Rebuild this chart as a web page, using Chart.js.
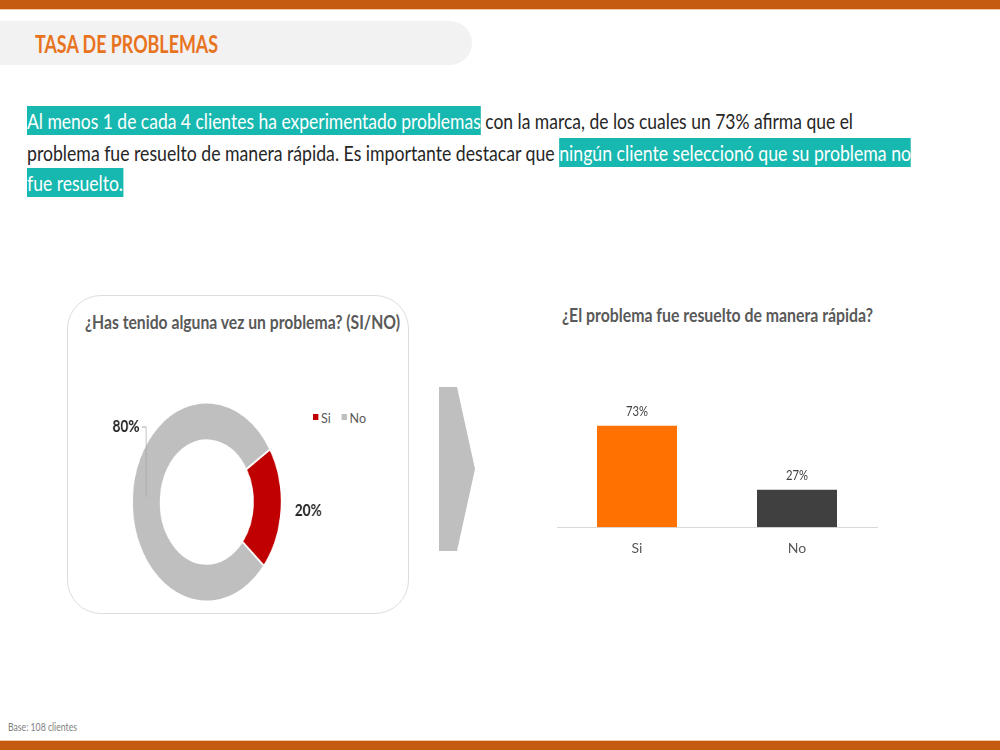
<!DOCTYPE html>
<html>
<head>
<meta charset="utf-8">
<script src="https://cdn.jsdelivr.net/npm/chart.js@4"></script>
<style>
  body { margin: 0; width: 1000px; height: 750px; position: relative; background: #fff; overflow: hidden;
         font-family: Lato, "Noto Sans", sans-serif; }
  .topbar { position: absolute; left: 0; top: 0; width: 1000px; height: 9px; background: #C55A11; border-bottom: 1px solid #F4C7A6; }
  .botbar { position: absolute; left: 0; top: 740px; width: 1000px; height: 10px; background: #C55A11; border-top: 1px solid #F4C7A6; }
  .pill { position: absolute; left: 0; top: 21px; width: 472px; height: 44px; background: #F2F2F2; border-radius: 0 22px 22px 0; }
  .fit { position: absolute; white-space: nowrap; transform-origin: 0 50%; }
  .head { left: 35px; top: 29px; font-weight: bold; font-size: 24.5px; line-height: 30px; color: #E8731F; }
  .line { left: 27px; font-size: 22px; line-height: 30px; color: #262626; }
  .hl { background: #17B8B0; color: #fff; padding: 1px 0; }
  .card { position: absolute; left: 67px; top: 295px; width: 340px; height: 317px; border: 1px solid #DDDDDD; border-radius: 34px; }
  .ctitle { font-weight: bold; font-size: 19.5px; line-height: 24px; color: #595959; }
  .legend { left: 313px; top: 409px; font-size: 14px; line-height: 18px; color: #595959; }
  .legend i { display: inline-block; width: 6px; height: 6px; margin-right: 3px; vertical-align: 3px; }
  .legend b { font-weight: normal; margin-right: 12px; }
  .legend b:last-child { margin-right: 0; }
  .arrow { position: absolute; left: 439px; top: 387px; width: 36px; height: 164px; background: #BFBFBF;
           clip-path: polygon(0 0, 50% 0, 100% 50%, 50% 100%, 0 100%); }
  .base { left: 8px; top: 720px; font-size: 10.5px; line-height: 14px; color: #7F7F7F; }
  #donut { position: absolute; left: 90px; top: 395px; }
  #bars { position: absolute; left: 540px; top: 370px; }
</style>
</head>
<body>
<div class="topbar"></div>
<div class="pill"></div>
<div class="fit head" data-w="183">TASA DE PROBLEMAS</div>

<div class="fit line" style="top:106px" data-w="826"><span class="hl">Al menos 1 de cada 4 clientes ha experimentado problemas</span> con la marca, de los cuales un 73% afirma que el</div>
<div class="fit line" style="top:138px" data-w="884">problema fue resuelto de manera rápida. Es importante destacar que <span class="hl">ningún cliente seleccionó que su problema no</span></div>
<div class="fit line" style="top:168px" data-w="96"><span class="hl">fue resuelto.</span></div>

<div class="card"></div>
<div class="fit ctitle" style="left:85px; top:310px;" data-w="315">¿Has tenido alguna vez un problema? (SI/NO)</div>
<div class="fit legend" id="legend" data-w="53"></div>
<canvas id="donut" width="333" height="215" style="width:250px; height:215px;"></canvas>

<div class="arrow"></div>

<div class="fit ctitle" style="left:562px; top:303px;" data-w="311">¿El problema fue resuelto de manera rápida?</div>
<canvas id="bars" width="360" height="200" style="width:360px; height:200px;"></canvas>

<div class="fit base" data-w="69">Base: 108 clientes</div>
<div class="botbar"></div>

<script>
// donut: ever had a problem
const donutLabels = ['Si', 'No']
const donutValues = [20, 80]
const donutColors = ['#C00000', '#BFBFBF']

// bars: solved quickly
const barLabels = ['Si', 'No']
const barValues = [73, 27]
const barColors = ['#FF7100', '#404040']

const squish = 0.75   // the donut in the slide is drawn narrower than tall
const font = 'Lato, "Noto Sans", sans-serif'

document.getElementById('legend').innerHTML = donutLabels
    .map((l, i) => '<i style="background:' + donutColors[i] + '"></i><b>' + l + '</b>').join('')

// squeeze html texts to the widths they have on the slide
document.querySelectorAll('.fit').forEach(el => {
    const w = el.getBoundingClientRect().width
    el.style.transform = 'scaleX(' + (el.dataset.w / w) + ')'
})

// draw a text squeezed to a given width (canvas x-scale sx undone)
function narrowText(ctx, text, x, y, width, sx) {
    const k = width / ctx.measureText(text).width
    ctx.save()
    ctx.translate(x, y)
    ctx.scale(k / sx, 1)
    ctx.fillText(text, 0, 0)
    ctx.restore()
}

const donutLabelPlugin = {
    id: 'donutLabels',
    afterDatasetsDraw(chart) {
        const ctx = chart.ctx
        const arcs = chart.getDatasetMeta(0).data
        ctx.save()
        ctx.font = 'bold 17px ' + font
        ctx.fillStyle = '#262626'
        ctx.textBaseline = 'middle'
        arcs.forEach((arc, i) => {
            const mid = (arc.startAngle + arc.endAngle) / 2
            const text = donutValues[i] + '%'
            if (i === 0) {
                // label to the right of the slice
                const r = arc.outerRadius + 22
                const x = arc.x + Math.cos(mid) * r
                const y = arc.y + Math.sin(mid) * r
                ctx.textAlign = 'left'
                narrowText(ctx, text, x - 4, y, 27, squish)
            } else {
                // leader line from inside the ring up to the label
                const lx = arc.x - (arc.innerRadius + arc.outerRadius) / 2
                const ly = arc.y - 5
                const topY = arc.y - 75
                ctx.strokeStyle = '#A6A6A6'
                ctx.lineWidth = 1
                ctx.beginPath()
                ctx.moveTo(lx, ly)
                ctx.lineTo(lx, topY)
                ctx.lineTo(lx - 6, topY)
                ctx.stroke()
                ctx.textAlign = 'right'
                narrowText(ctx, text, lx - 9, topY, 27, squish)
            }
        })
        ctx.restore()
    }
}

new Chart(document.getElementById('donut'), {
    type: 'doughnut',
    data: {
        labels: donutLabels,
        datasets: [{
            data: donutValues,
            backgroundColor: donutColors,
            borderColor: '#ffffff',
            borderWidth: 2,
        }]
    },
    options: {
        responsive: false,
        animation: false,
        devicePixelRatio: 1,
        cutout: '62%',
        rotation: 58,
        layout: { padding: { left: 55, right: 77, top: 6, bottom: 7 } },
        plugins: { legend: { display: false }, tooltip: { enabled: false } }
    },
    plugins: [donutLabelPlugin]
})

const barLabelPlugin = {
    id: 'barLabels',
    afterDatasetsDraw(chart) {
        const ctx = chart.ctx
        ctx.save()
        ctx.font = '14px ' + font
        ctx.fillStyle = '#404040'
        ctx.textAlign = 'center'
        ctx.textBaseline = 'middle'
        chart.getDatasetMeta(0).data.forEach((bar, i) => {
            narrowText(ctx, barValues[i] + '%', bar.x, bar.y - 14, 22, 1)
        })
        ctx.restore()
    }
}

new Chart(document.getElementById('bars'), {
    type: 'bar',
    data: {
        labels: barLabels,
        datasets: [{
            data: barValues,
            backgroundColor: barColors,
            barPercentage: 0.5,
            categoryPercentage: 1,
        }]
    },
    options: {
        responsive: false,
        animation: false,
        devicePixelRatio: 1,
        layout: { padding: { left: 17, right: 23, top: 46, bottom: 0 } },
        scales: {
            x: {
                grid: { display: false, drawTicks: false },
                border: { color: '#D9D9D9', width: 1 },
                ticks: { color: '#595959', font: { size: 14, family: font }, padding: 13 }
            },
            y: { display: false, min: 0, max: 80 }
        },
        plugins: { legend: { display: false }, tooltip: { enabled: false } }
    },
    plugins: [barLabelPlugin]
})
</script>
</body>
</html>
